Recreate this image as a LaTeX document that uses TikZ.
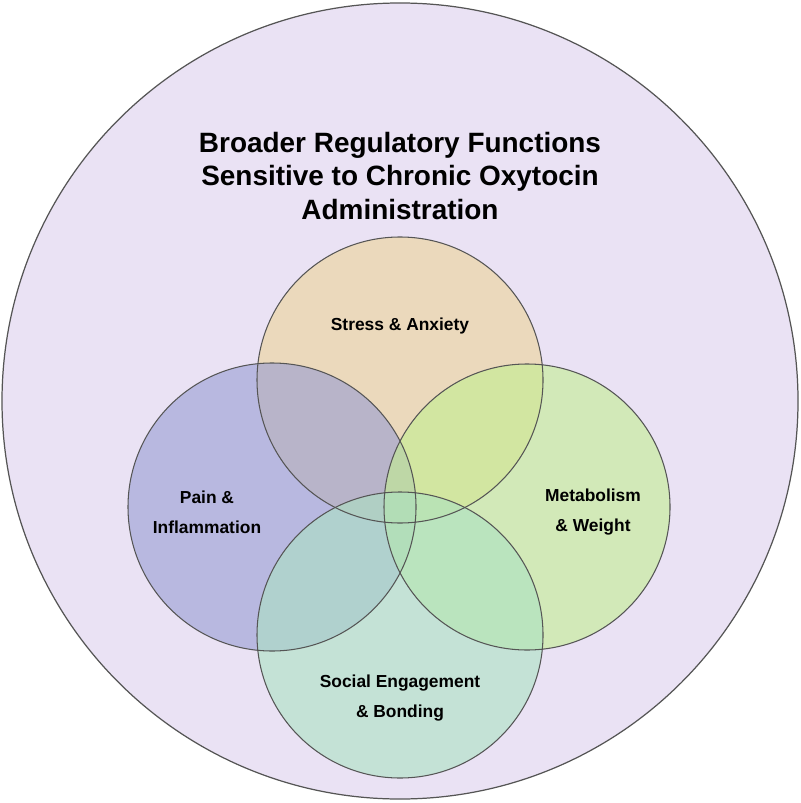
\documentclass[tikz,border=0pt]{standalone}
\usepackage{fontspec}
\setmainfont{Liberation Sans}
\definecolor{bgc}{RGB}{234,226,244}
\definecolor{stressc}{RGB}{236,211,151}
\definecolor{painc}{RGB}{151,156,211}
\definecolor{metac}{RGB}{194,239,144}
\definecolor{socc}{RGB}{171,226,194}
\definecolor{edgec}{RGB}{85,85,85}
\tikzset{
  ring/.style={circle, draw=edgec, line width=0.6pt, inner sep=0pt},
  lbl/.style={font=\bfseries\fontsize{9.9}{17}\selectfont, align=center, text=black},
  ttl/.style={font=\bfseries\fontsize{15.9}{19.3}\selectfont, align=center, text=black}
}
\begin{document}
\begin{tikzpicture}[x=0.02cm,y=-0.02cm]
\useasboundingbox (0,0) rectangle (800,803);
\node[ring, line width=0.7pt, fill=bgc, minimum size=796*0.02cm] (outer) at (400,401) {};
\node[ttl] (title) at (400,176) {Broader Regulatory Functions\\Sensitive to Chronic Oxytocin\\Administration};
\fill[stressc, fill opacity=0.6] (400,380) circle[radius=143];
\fill[painc, fill opacity=0.6] (272,507) circle[radius=144];
\fill[metac, fill opacity=0.6] (527,507) circle[radius=143];
\fill[socc, fill opacity=0.6] (400,635) circle[radius=143];
\node[ring, minimum size=286*0.02cm] (stress) at (400,380) {};
\node[ring, minimum size=288*0.02cm] (pain) at (272,507) {};
\node[ring, minimum size=286*0.02cm] (meta) at (527,507) {};
\node[ring, minimum size=286*0.02cm] (soc) at (400,635) {};
\node[lbl] (lstress) at (400,326) {Stress \& Anxiety};
\node[lbl] (lpain) at (207,512) {Pain \&\\Inflammation};
\node[lbl] (lmeta) at (593,512) {Metabolism\\\& Weight};
\node[lbl] (lsoc) at (400,698) {Social Engagement\\\& Bonding};
\end{tikzpicture}
\end{document}
